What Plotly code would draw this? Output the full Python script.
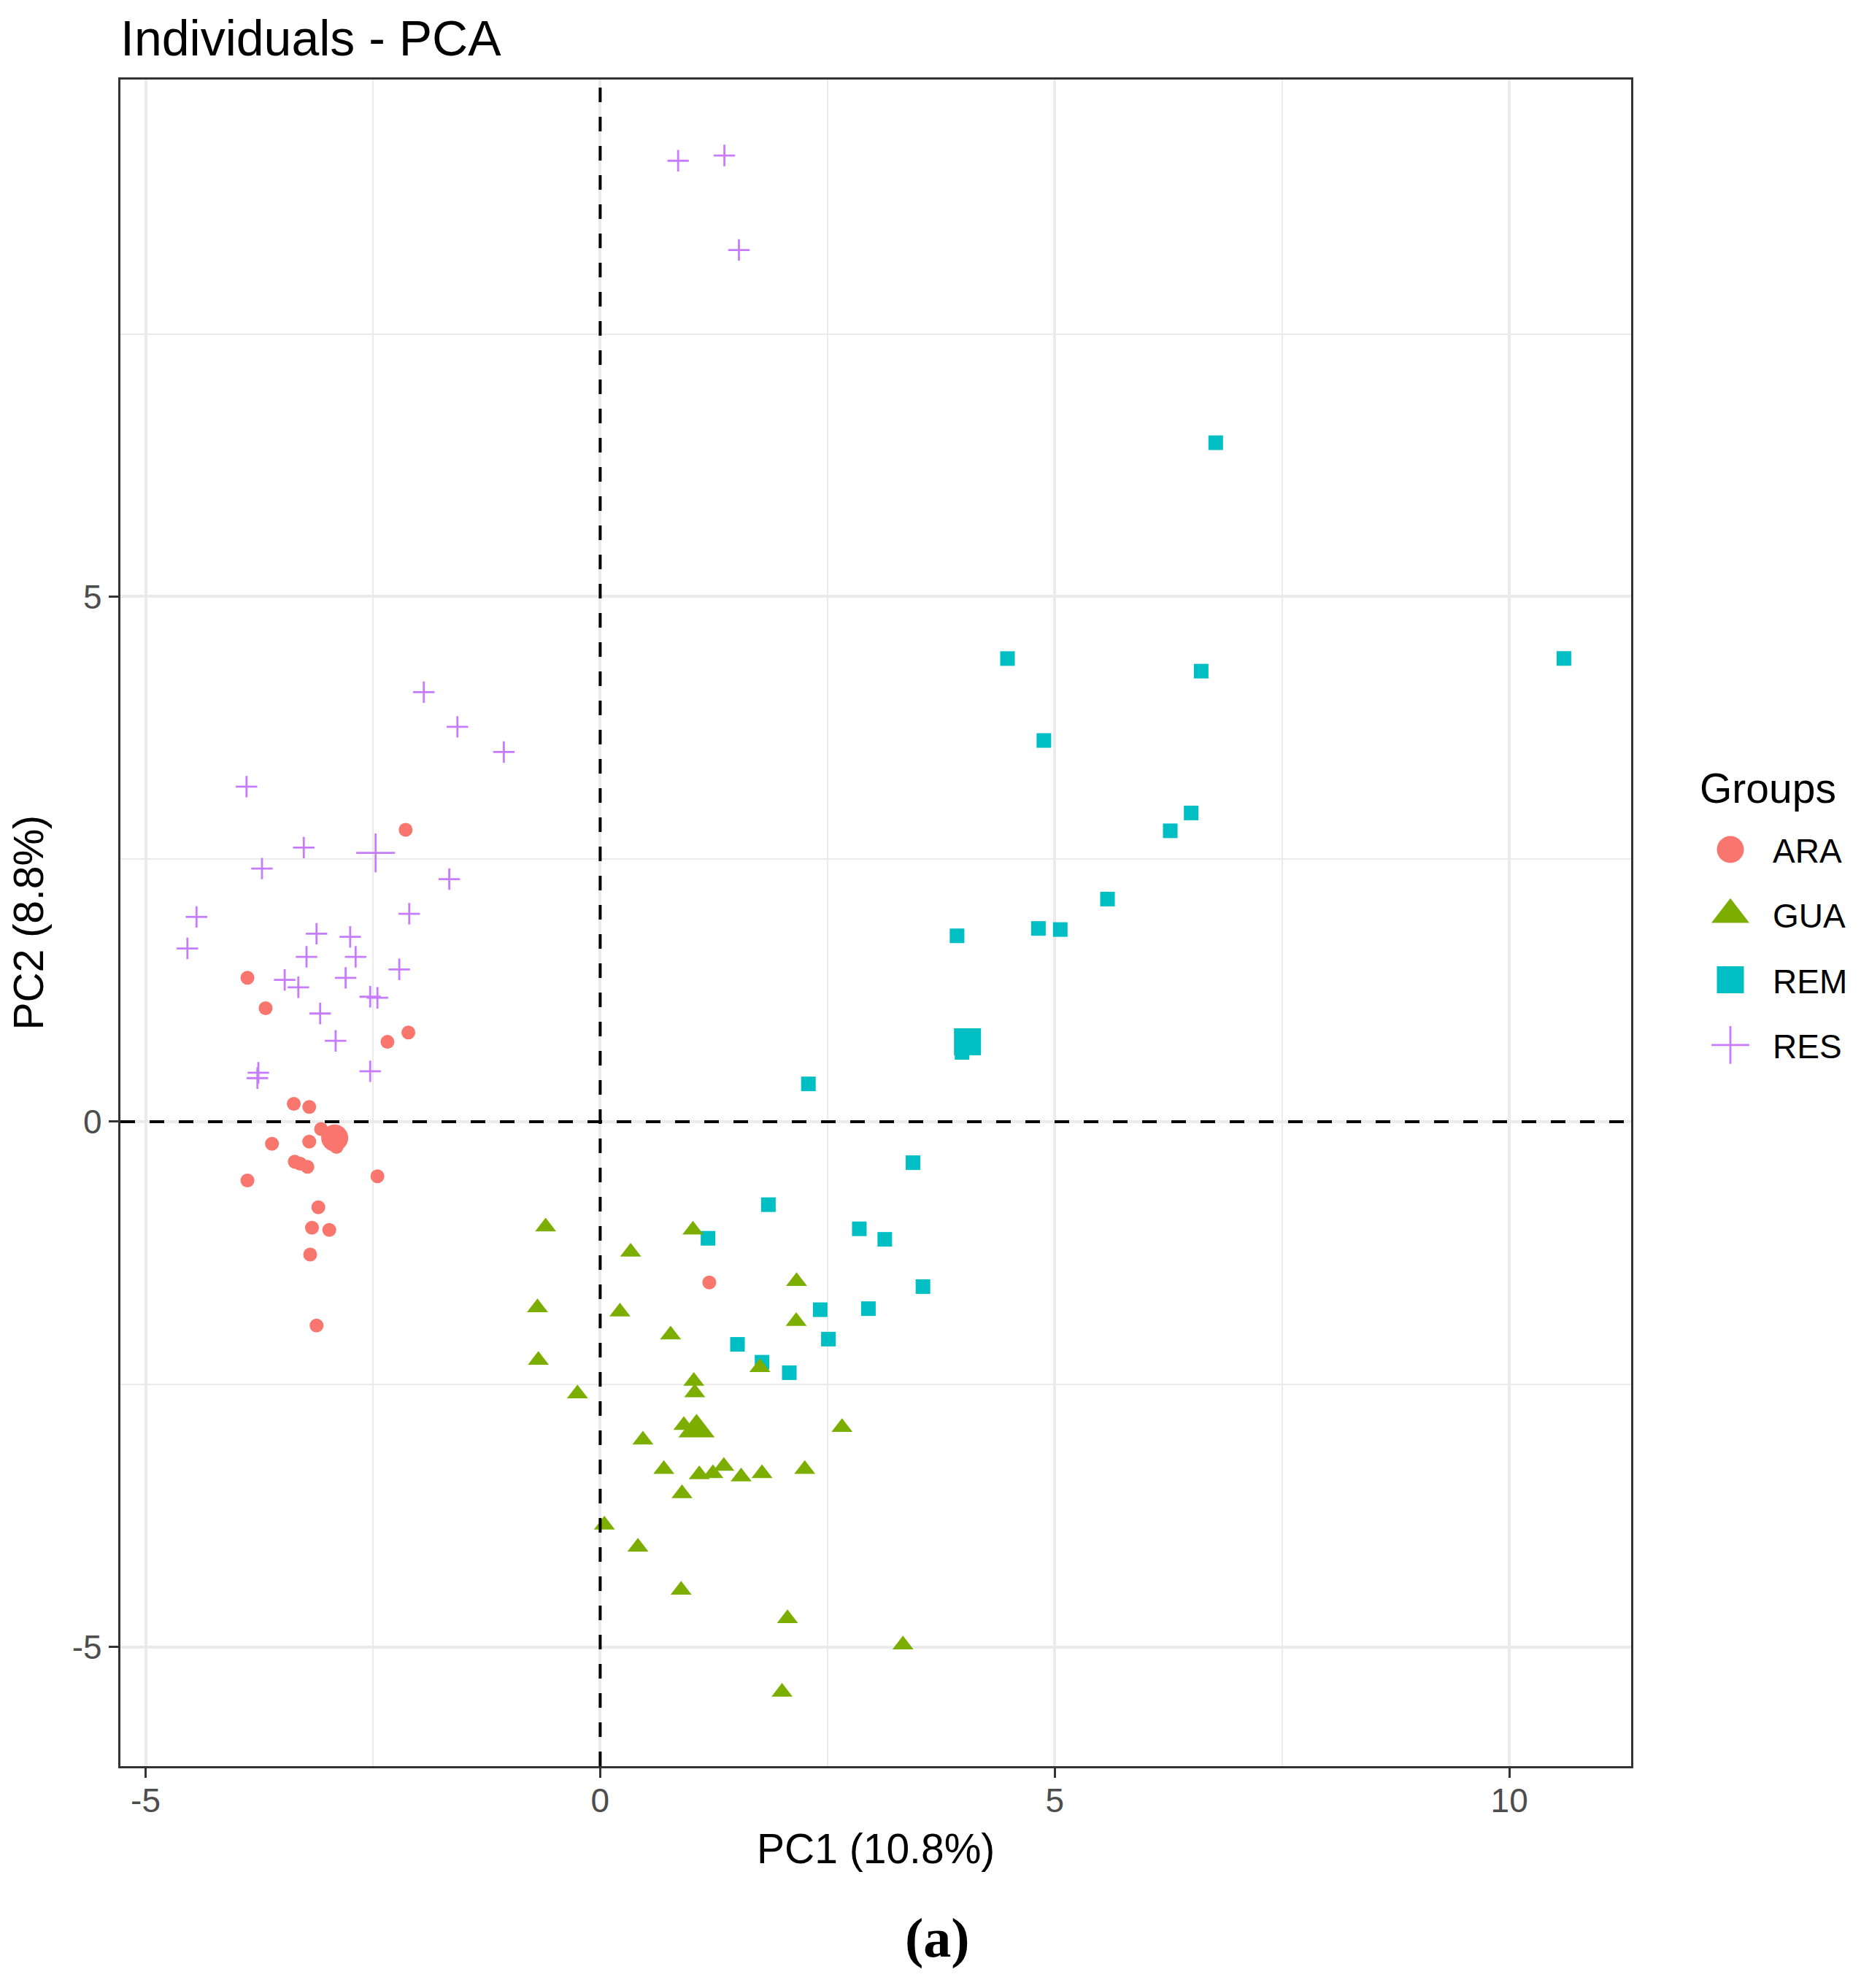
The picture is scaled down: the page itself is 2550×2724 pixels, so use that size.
import plotly.graph_objects as go

# ---------------- data ----------------
groups = ["ARA", "GUA", "REM", "RES"]

ara_x = [-2.14, -3.88, -3.68, -2.11, -2.34, -3.37, -3.20, -3.07, -2.90, -3.61,
         -3.20, -3.36, -3.30, -3.22, -3.88, -2.45, -3.10, -3.17, -2.98, -3.19,
         -3.12, 1.20]
ara_y = [2.78, 1.37, 1.08, 0.85, 0.76, 0.17, 0.14, -0.07, -0.24, -0.21,
         -0.19, -0.38, -0.40, -0.43, -0.56, -0.52, -0.815, -1.01, -1.03, -1.265,
         -1.94, -1.53]

gua_x = [-0.60, 1.02, 0.335, 2.16, -0.69, 0.217, 2.156, 0.774, -0.68, 1.757,
         -0.25, 1.03, 1.04, 0.92, 0.47, 2.66, 0.70, 1.09, 1.24, 1.36,
         1.55, 1.78, 2.25, 0.90, 0.046, 0.415, 0.89, 2.06, 2.00, 3.33]
gua_y = [-1.00, -1.03, -1.24, -1.52, -1.77, -1.81, -1.90, -2.03, -2.27, -2.34,
         -2.59, -2.47, -2.58, -2.89, -3.03, -2.91, -3.31, -3.36, -3.35, -3.28,
         -3.38, -3.35, -3.31, -3.54, -3.84, -4.05, -4.46, -4.73, -5.43, -4.98]

rem_x = [1.85, 1.186, 2.85, 2.42, 2.95, 2.51, 1.51, 1.78, 2.08, 3.13,
         3.55, 3.925, 4.82, 5.06, 5.58, 3.98, 2.29, 3.44, 6.77, 4.48,
         6.61, 4.88, 6.27, 6.50, 10.60]
rem_y = [-0.79, -1.11, -1.02, -1.79, -1.78, -2.07, -2.12, -2.29, -2.39, -1.12,
         -1.57, 1.77, 1.84, 1.83, 2.12, 0.66, 0.36, -0.39, 6.465, 4.41,
         4.29, 3.63, 2.77, 2.94, 4.41]

res_x = [-1.94, -1.57, -1.06, -3.89, -3.26, -3.72, -1.66, -4.44, -2.10, -4.54,
         -3.12, -2.75, -3.23, -2.69, -2.21, -3.47, -3.32, -2.80, -2.53, -2.45,
         -3.08, -2.91, -3.76, -3.77, -2.53, 0.857, 1.366, 1.526]
res_y = [4.09, 3.76, 3.52, 3.19, 2.61, 2.41, 2.31, 1.95, 1.98, 1.65,
         1.79, 1.76, 1.57, 1.57, 1.45, 1.35, 1.28, 1.37, 1.19, 1.18,
         1.03, 0.77, 0.466, 0.415, 0.48, 9.15, 9.20, 8.30]

# group mean points (the larger markers)
mean_x = [-2.92, 1.06, 4.04, -2.47]
mean_y = [-0.155, -2.93, 0.76, 2.56]

x_tickvals = [-5, 0, 5, 10]
x_ticktext = ["-5", "0", "5", "10"]
y_tickvals = [-5, 0, 5]
y_ticktext = ["-5", "0", "5"]
x_minor = [-2.5, 2.5, 7.5]
y_minor = [-2.5, 2.5, 7.5]

title_text = "Individuals - PCA"
x_title = "PC1 (10.8%)"
y_title = "PC2 (8.8%)"
legend_title = "Groups"
panel_label = "<b>(a)</b>"

# ---------------- styles ----------------
FONT = "Liberation Sans, Arial, sans-serif"
colors = {"ARA": "#F8766D", "GUA": "#7CAE00", "REM": "#00BFC4", "RES": "#C77CFF"}
symbols = {"ARA": "circle", "GUA": "triangle-up", "REM": "square", "RES": "cross-thin"}
pt_size = {"ARA": 19, "GUA": 25, "REM": 20, "RES": 21}
mean_size = {"ARA": 37, "GUA": 43, "REM": 37, "RES": 38}
key_size = {"ARA": 37, "GUA": 45, "REM": 37, "RES": 37}

data_xy = {"ARA": (ara_x, ara_y), "GUA": (gua_x, gua_y),
           "REM": (rem_x, rem_y), "RES": (res_x, res_y)}


def marker(g, size):
    m = dict(symbol=symbols[g], size=size, color=colors[g])
    if g == "RES":
        m["line"] = dict(color=colors[g], width=2.8)
    else:
        m["line"] = dict(width=0)
    return m


fig = go.Figure()

draw_order = ["REM", "ARA", "GUA", "RES"]
for g in draw_order:
    xs, ys = data_xy[g]
    fig.add_trace(go.Scatter(x=xs, y=ys, mode="markers", name=g,
                             marker=marker(g, pt_size[g]), showlegend=False,
                             cliponaxis=True))
for i, g in enumerate(groups):
    fig.add_trace(go.Scatter(x=[mean_x[i]], y=[mean_y[i]], mode="markers",
                             name=g + " mean", marker=marker(g, mean_size[g]),
                             showlegend=False))

# ---------------- custom legend on a pixel-scaled helper axis ----------------
W, H = 2550, 2724
L, R, T, B = 165, 0, 109, 304
plot_right = 2234.5
pw = W - L - R
main_dom = (plot_right - L) / pw
leg_left = 2290
key_x = 2371
text_x = 2427
key_y0 = 1164
key_step = 89.3

for i, g in enumerate(groups):
    fig.add_trace(go.Scatter(x=[key_x], y=[key_y0 + i * key_step], mode="markers",
                             marker=marker(g, key_size[g]), showlegend=False,
                             xaxis="x2", yaxis="y2", hoverinfo="skip"))
    fig.add_annotation(x=text_x, y=key_y0 + i * key_step + 2, xref="x2", yref="y2",
                       text=g, showarrow=False, xanchor="left", yanchor="middle",
                       font=dict(family=FONT, size=46, color="black"))
fig.add_annotation(x=2327, y=1080, xref="x2", yref="y2", text=legend_title,
                   showarrow=False, xanchor="left", yanchor="middle",
                   font=dict(family=FONT, size=57, color="black"))

# reference dashed lines
fig.add_hline(y=0, line=dict(color="black", width=4, dash="20px,20px"), layer="above")
fig.add_vline(x=0, line=dict(color="black", width=4, dash="20px,20px"), layer="above")

axis_common = dict(showgrid=True, gridcolor="#EBEBEB", gridwidth=3.6, zeroline=False,
                   showline=True, mirror=True, linecolor="#333333", linewidth=3.3,
                   ticks="outside", ticklen=13, tickwidth=3.3, tickcolor="#333333",
                   tickfont=dict(family=FONT, size=46, color="#4D4D4D"))

fig.update_layout(
    width=W, height=H, autosize=False,
    margin=dict(l=L, r=R, t=T, b=B, pad=0),
    paper_bgcolor="white", plot_bgcolor="white",
    showlegend=False,
    title=dict(text=title_text, x=0, xref="paper", xanchor="left",
               y=1 - 52 / H, yref="container", yanchor="middle",
               font=dict(family=FONT, size=68, color="black")),
    xaxis=dict(domain=[0, main_dom], range=[-5.277, 11.335],
               tickvals=x_tickvals, ticktext=x_ticktext, ticklabelstandoff=-8,
               minor=dict(tickvals=x_minor, showgrid=True, gridcolor="#EBEBEB",
                          gridwidth=2, ticks=""),
               **axis_common),
    yaxis=dict(domain=[0, 1], range=[-6.136, 9.923],
               tickvals=y_tickvals, ticktext=y_ticktext,
               minor=dict(tickvals=y_minor, showgrid=True, gridcolor="#EBEBEB",
                          gridwidth=2, ticks=""),
               **axis_common),
    xaxis2=dict(domain=[(leg_left - L) / pw, 1], range=[leg_left, W],
                visible=False, fixedrange=True),
    yaxis2=dict(domain=[0, 1], range=[H - B, T], anchor="x2",
                visible=False, fixedrange=True),
)

# axis titles and panel label
fig.add_annotation(x=main_dom / 2, y=(H - B - 2533) / (H - T - B), xref="paper", yref="paper",
                   text=x_title, showarrow=False, xanchor="center", yanchor="middle",
                   font=dict(family=FONT, size=57, color="black"))
fig.add_annotation(x=(38 - L) / pw, y=0.5, xref="paper", yref="paper",
                   text=y_title, showarrow=False, textangle=-90,
                   xanchor="center", yanchor="middle",
                   font=dict(family=FONT, size=57, color="black"))
fig.add_annotation(x=(1284 - L) / pw, y=(H - B - 2655) / (H - T - B), xref="paper",
                   yref="paper", text=panel_label, showarrow=False,
                   xanchor="center", yanchor="middle",
                   font=dict(family="Liberation Serif, Times New Roman, serif",
                             size=76, color="black"))

fig.write_html("out.html", config={"displayModeBar": False},
               post_script="document.body.style.margin='0px';document.body.style.overflow='hidden';")
